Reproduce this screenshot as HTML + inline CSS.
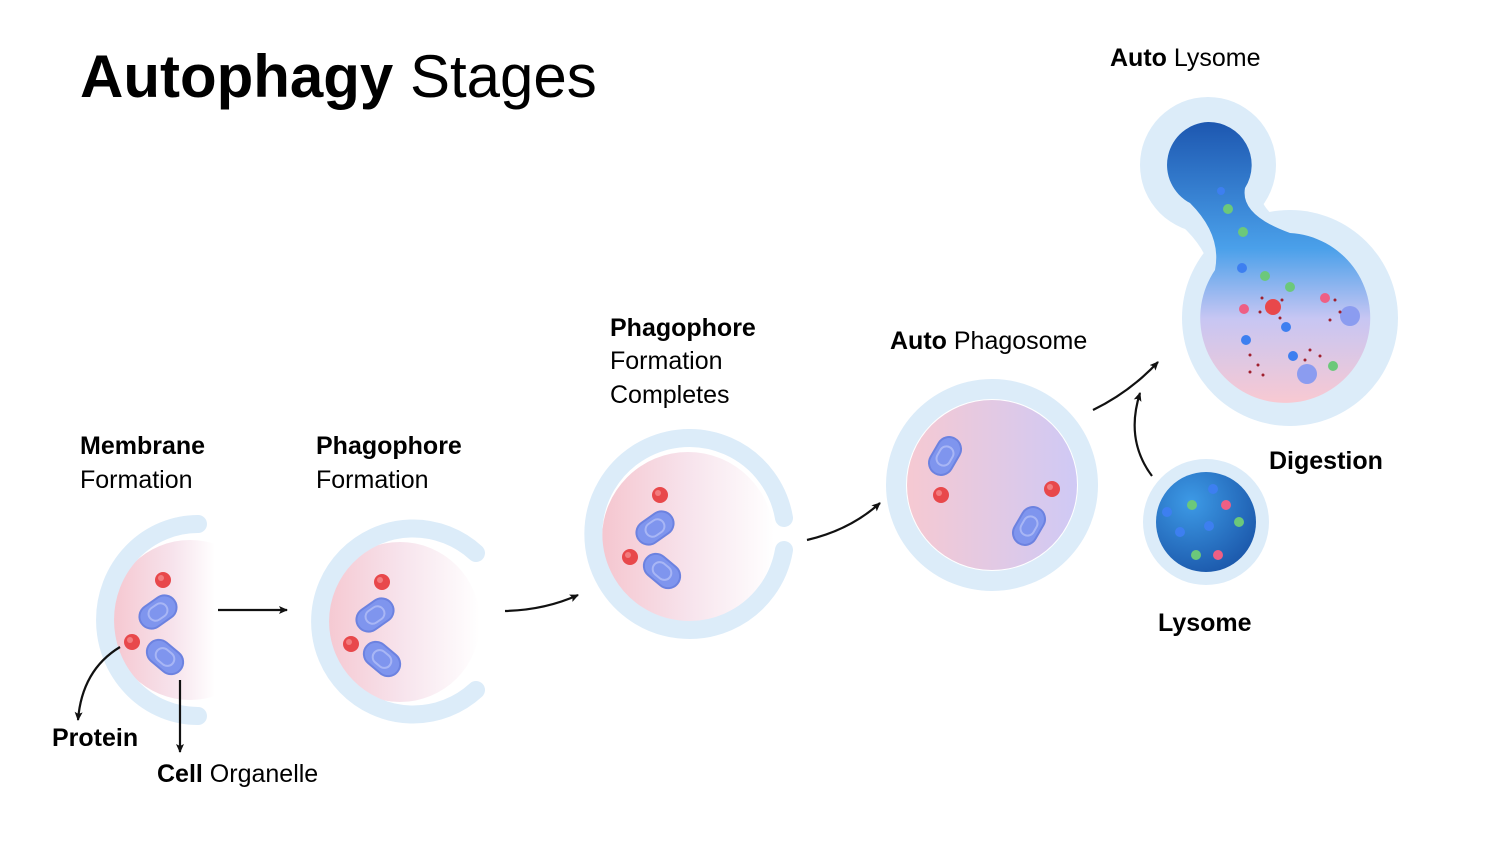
<!DOCTYPE html>
<html><head><meta charset="utf-8"><style>
html,body{margin:0;padding:0;background:#fff;}
svg{display:block;}
text{font-family:"Liberation Sans",sans-serif;fill:#000;}
</style></head><body>
<svg width="1500" height="853" viewBox="0 0 1500 853" xmlns="http://www.w3.org/2000/svg">
<defs>
<linearGradient id="pw" x1="0" x2="1" y1="0" y2="0"><stop offset="0" stop-color="#f5c6cf"/><stop offset="0.5" stop-color="#f7e3ec"/><stop offset="1" stop-color="#ffffff"/></linearGradient>
<linearGradient id="pw1" gradientUnits="userSpaceOnUse" x1="110" x2="215" y1="0" y2="0"><stop offset="0" stop-color="#f5c6cf"/><stop offset="0.6" stop-color="#f7e3ec"/><stop offset="1" stop-color="#ffffff"/></linearGradient>
<linearGradient id="pl" x1="0" x2="1" y1="0" y2="0"><stop offset="0" stop-color="#f6c9d2"/><stop offset="1" stop-color="#cfc9f5"/></linearGradient>
<linearGradient id="al" x1="0" x2="0" y1="0" y2="1"><stop offset="0" stop-color="#1d57b0"/><stop offset="0.45" stop-color="#4aa0ea"/><stop offset="0.7" stop-color="#c7c6f3"/><stop offset="1" stop-color="#f8c9d2"/></linearGradient>
<radialGradient id="ly" cx="0.35" cy="0.3" r="0.8"><stop offset="0" stop-color="#3d9ae6"/><stop offset="1" stop-color="#1a55a8"/></radialGradient>
<marker id="ah" markerWidth="10" markerHeight="10" refX="8" refY="5" orient="auto" markerUnits="userSpaceOnUse"><path d="M0,1 L9,5 L0,9 L2,5 Z" fill="#111"/></marker>
<g id="cap"><rect x="-20" y="-12" width="40" height="24" rx="12" fill="#7f95ee" stroke="#6c82e0" stroke-width="2"/><rect x="-10" y="-7" width="20" height="14" rx="7" fill="none" stroke="#a8b6f5" stroke-width="2"/></g>
<g id="rd"><circle r="8" fill="#e8484b"/><circle cx="-2" cy="-2" r="3" fill="#f27c7e"/></g>
</defs>

<text x="80" y="97" font-size="60" font-weight="bold">Autophagy <tspan font-weight="normal">Stages</tspan></text>

<!-- Cell 1 -->
<clipPath id="c1"><rect x="80" y="500" width="135" height="240"/></clipPath>
<circle cx="190" cy="620" r="80" fill="url(#pw1)" clip-path="url(#c1)"/>
<path d="M198,524 A92,95 0 0 0 198,716" fill="none" stroke="#dcecf9" stroke-width="18" stroke-linecap="round"/>
<use href="#rd" x="163" y="580"/>
<use href="#rd" x="132" y="642"/>
<use href="#cap" transform="translate(158,612) rotate(-35)"/>
<use href="#cap" transform="translate(165,657) rotate(40)"/>

<!-- Cell 2 -->
<circle cx="400" cy="622" r="80" fill="url(#pw)"/>
<path d="M476,553 A93,93 0 1 0 476,690" fill="none" stroke="#dcecf9" stroke-width="18" stroke-linecap="round"/>
<use href="#rd" x="382" y="582"/>
<use href="#rd" x="351" y="644"/>
<use href="#cap" transform="translate(375,615) rotate(-35)"/>
<use href="#cap" transform="translate(382,659) rotate(40)"/>

<!-- Cell 3 -->
<circle cx="688" cy="538" r="86" fill="url(#pw)"/>
<path d="M784,518 A96,96 0 1 0 784,550" fill="none" stroke="#dcecf9" stroke-width="18" stroke-linecap="round"/>
<use href="#rd" x="660" y="495"/>
<use href="#rd" x="630" y="557"/>
<use href="#cap" transform="translate(655,528) rotate(-35)"/>
<use href="#cap" transform="translate(662,571) rotate(40)"/>

<!-- Cell 4 -->
<circle cx="992" cy="485" r="96" fill="none" stroke="#dcecf9" stroke-width="20"/>
<circle cx="992" cy="485" r="85" fill="url(#pl)"/>
<use href="#rd" x="941" y="495"/>
<use href="#rd" x="1052" y="489"/>
<use href="#cap" transform="translate(945,456) rotate(-60)"/>
<use href="#cap" transform="translate(1029,526) rotate(-60)"/>

<!-- Lysosome -->
<circle cx="1206" cy="522" r="63" fill="#dcecf9"/>
<circle cx="1206" cy="522" r="50" fill="url(#ly)"/>
<g>
<circle cx="1213" cy="489" r="5" fill="#3d7ff0"/><circle cx="1192" cy="505" r="5" fill="#6cc87a"/><circle cx="1226" cy="505" r="5" fill="#ee5f84"/>
<circle cx="1167" cy="512" r="5" fill="#3d7ff0"/><circle cx="1239" cy="522" r="5" fill="#6cc87a"/><circle cx="1209" cy="526" r="5" fill="#3d7ff0"/>
<circle cx="1180" cy="532" r="5" fill="#3d7ff0"/><circle cx="1196" cy="555" r="5" fill="#6cc87a"/><circle cx="1218" cy="555" r="5" fill="#ee5f84"/>
</g>

<!-- Autolysosome -->
<g fill="#dcecf9">
<circle cx="1208" cy="165" r="68"/>
<circle cx="1290" cy="318" r="108"/>
<path d="M1160,210 Q1210,240 1215,290 L1300,230 Q1260,215 1260,190 Z"/>
</g>
<g fill="url(#al)">
<path d="M1208,122 A43,43 0 0 1 1245,188 Q1240,215 1290,233 A85,85 0 1 1 1215,270 Q1222,235 1190,203 A43,43 0 0 1 1208,122 Z"/>
</g>
<g>
<circle cx="1221" cy="191" r="4" fill="#3d7ff0"/><circle cx="1228" cy="209" r="5" fill="#6cc87a"/><circle cx="1243" cy="232" r="5" fill="#6cc87a"/>
<circle cx="1242" cy="268" r="5" fill="#3d7ff0"/><circle cx="1265" cy="276" r="5" fill="#6cc87a"/><circle cx="1290" cy="287" r="5" fill="#6cc87a"/>
<circle cx="1244" cy="309" r="5" fill="#ee5f84"/><circle cx="1273" cy="307" r="8" fill="#e8484b"/><circle cx="1325" cy="298" r="5" fill="#ee5f84"/>
<circle cx="1286" cy="327" r="5" fill="#3d7ff0"/><circle cx="1246" cy="340" r="5" fill="#3d7ff0"/><circle cx="1293" cy="356" r="5" fill="#3d7ff0"/>
<circle cx="1333" cy="366" r="5" fill="#6cc87a"/>
<circle cx="1350" cy="316" r="10" fill="#8b9cf0"/><circle cx="1307" cy="374" r="10" fill="#8b9cf0"/>
<g fill="#a0202e"><circle cx="1262" cy="298" r="1.5"/><circle cx="1282" cy="300" r="1.5"/><circle cx="1260" cy="312" r="1.5"/><circle cx="1280" cy="318" r="1.5"/><circle cx="1335" cy="300" r="1.5"/><circle cx="1340" cy="312" r="1.5"/><circle cx="1330" cy="320" r="1.5"/><circle cx="1250" cy="355" r="1.5"/><circle cx="1258" cy="365" r="1.5"/><circle cx="1263" cy="375" r="1.5"/><circle cx="1250" cy="372" r="1.5"/><circle cx="1310" cy="350" r="1.5"/><circle cx="1320" cy="356" r="1.5"/><circle cx="1305" cy="360" r="1.5"/></g>
</g>

<!-- Arrows -->
<g fill="none" stroke="#111" stroke-width="2.2" marker-end="url(#ah)">
<path d="M218,610 L287,610"/>
<path d="M505,611 Q545,610 578,595"/>
<path d="M807,540 Q850,530 880,503"/>
<path d="M1093,410 Q1130,392 1158,362"/>
<path d="M1152,476 Q1125,440 1140,393"/>
<path d="M120,647 Q82,670 78,720"/>
<path d="M180,680 L180,752"/>
</g>

<!-- Labels -->
<g font-size="25">
<text x="80" y="454" font-weight="bold">Membrane</text><text x="80" y="488">Formation</text>
<text x="316" y="454" font-weight="bold">Phagophore</text><text x="316" y="488">Formation</text>
<text x="610" y="336" font-weight="bold">Phagophore</text><text x="610" y="369">Formation</text><text x="610" y="403">Completes</text>
<text x="890" y="349"><tspan font-weight="bold">Auto</tspan> Phagosome</text>
<text x="1110" y="66"><tspan font-weight="bold">Auto</tspan> Lysome</text>
<text x="1269" y="469" font-weight="bold">Digestion</text>
<text x="1158" y="631" font-weight="bold">Lysome</text>
<text x="52" y="746" font-weight="bold">Protein</text>
<text x="157" y="782"><tspan font-weight="bold">Cell</tspan> Organelle</text>
</g>
</svg>
</body></html>
